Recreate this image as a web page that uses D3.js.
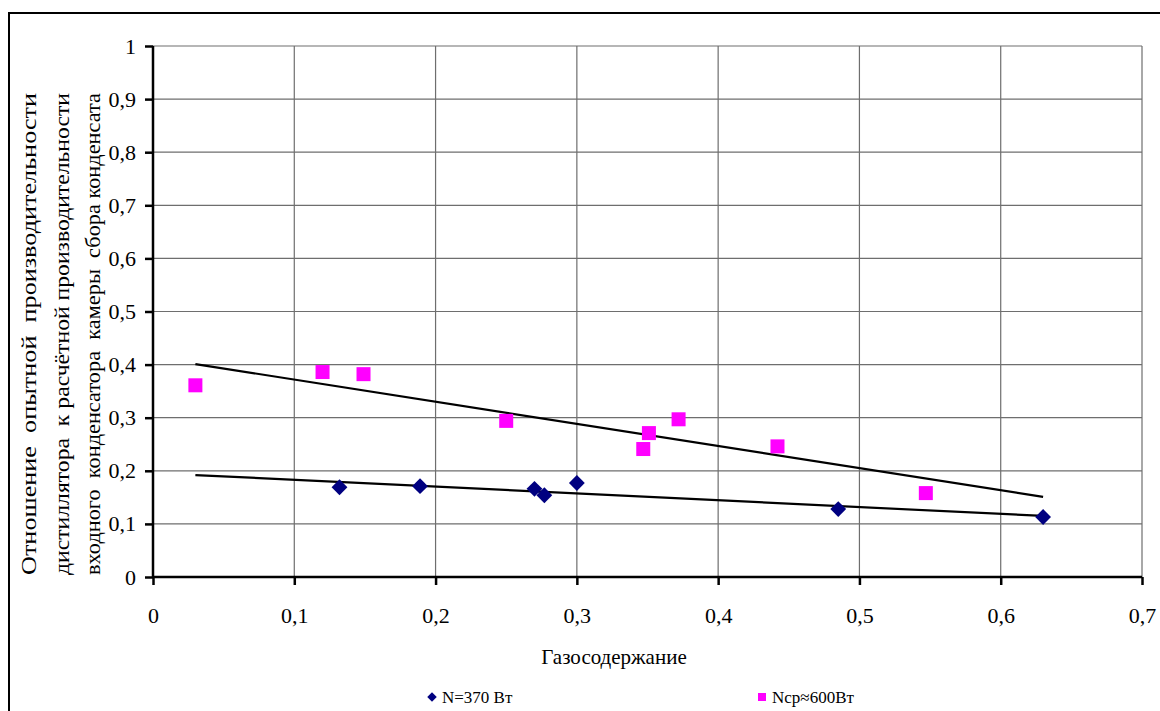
<!DOCTYPE html>
<html>
<head>
<meta charset="utf-8">
<script src="https://cdn.jsdelivr.net/npm/d3@7"></script>
<style>
  body { margin: 0; background: #fff; }
  svg text { font-family: "Liberation Serif", Tinos, "Times New Roman", "DejaVu Serif", serif !important; fill: #000; }
</style>
</head>
<body>
<svg id="chart" width="1160" height="711"></svg>
<script>
// data
var n370X = [0.132, 0.189, 0.270, 0.277, 0.300, 0.485, 0.630];
var n370Y = [0.169, 0.171, 0.166, 0.154, 0.177, 0.128, 0.113];

var n600X = [0.030, 0.120, 0.149, 0.250, 0.347, 0.351, 0.372, 0.442, 0.547];
var n600Y = [0.361, 0.386, 0.382, 0.294, 0.241, 0.271, 0.297, 0.246, 0.158];

// trend lines (start / end)
var trend370X = [0.030, 0.630];
var trend370Y = [0.192, 0.115];
var trend600X = [0.030, 0.630];
var trend600Y = [0.401, 0.151];

var xTicks = [0, 0.1, 0.2, 0.3, 0.4, 0.5, 0.6, 0.7];
var xTickLabels = ["0", "0,1", "0,2", "0,3", "0,4", "0,5", "0,6", "0,7"];
var yTicks = [0, 0.1, 0.2, 0.3, 0.4, 0.5, 0.6, 0.7, 0.8, 0.9, 1];
var yTickLabels = ["0", "0,1", "0,2", "0,3", "0,4", "0,5", "0,6", "0,7", "0,8", "0,9", "1"];

var xTitle = "Газосодержание";
var yTitle = ["Отношение  опытной  производительности",
              "дистиллятора  к расчётной производительности",
              "входного  конденсатора  камеры  сбора конденсата"];
var legendNames = ["N=370 Вт", "Nср≈600Вт"];

var svg = d3.select("#chart");

// outer frame
svg.append("rect")
  .attr("x", 9).attr("y", 13)
  .attr("width", 1160).attr("height", 720)
  .attr("fill", "none").attr("stroke", "#000").attr("stroke-width", 2);

var x = d3.scaleLinear().domain([0, 0.7]).range([153, 1142]);
var y = d3.scaleLinear().domain([0, 1]).range([577, 46]);

// grid
svg.append("g").selectAll("line").data(yTicks.slice(1)).join("line")
  .attr("x1", x(0)).attr("x2", x(0.7))
  .attr("y1", d => y(d)).attr("y2", d => y(d))
  .attr("stroke", "#6e6e6e").attr("stroke-width", 1.2);
svg.append("g").selectAll("line").data(xTicks.slice(1)).join("line")
  .attr("y1", y(0)).attr("y2", y(1))
  .attr("x1", d => x(d)).attr("x2", d => x(d))
  .attr("stroke", "#6e6e6e").attr("stroke-width", 1.2);

// axes
var yAxis = svg.append("g")
  .attr("transform", `translate(${x(0)},0)`)
  .call(d3.axisLeft(y).tickValues(yTicks).tickSize(8).tickPadding(9)
    .tickFormat((d, i) => yTickLabels[i]));
var xAxis = svg.append("g")
  .attr("transform", `translate(0,${y(0)})`)
  .call(d3.axisBottom(x).tickValues(xTicks).tickSize(8).tickPadding(22)
    .tickFormat((d, i) => xTickLabels[i]));

[xAxis, yAxis].forEach(function(a){
  a.attr("font-family", null);
  a.select(".domain").attr("stroke", "#000").attr("stroke-width", 2.5)
    .attr("d", a === xAxis ? `M${x(0)},0H${x(0.7)}` : `M0,${y(0)}V${y(1)}`);
  a.selectAll(".tick line").attr("stroke", "#000").attr("stroke-width", 2.5);
  a.selectAll(".tick text").attr("font-size", 22).attr("fill", "#000");
});

// trend lines
var line = d3.line().x(d => x(d[0])).y(d => y(d[1]));
svg.append("path")
  .datum(trend370X.map((v, i) => [v, trend370Y[i]]))
  .attr("d", line).attr("fill", "none").attr("stroke", "#000").attr("stroke-width", 2.2);
svg.append("path")
  .datum(trend600X.map((v, i) => [v, trend600Y[i]]))
  .attr("d", line).attr("fill", "none").attr("stroke", "#000").attr("stroke-width", 2.2);

// markers
var diamond = d3.symbol().type(d3.symbolSquare).size(125);
svg.append("g").selectAll("path").data(n370X).join("path")
  .attr("d", diamond)
  .attr("transform", (d, i) => `translate(${x(d)},${y(n370Y[i])}) rotate(45)`)
  .attr("fill", "#000080");

svg.append("g").selectAll("rect").data(n600X).join("rect")
  .attr("x", d => x(d) - 7).attr("y", (d, i) => y(n600Y[i]) - 7)
  .attr("width", 14).attr("height", 14)
  .attr("fill", "#ff00ff");

// titles
svg.append("text")
  .attr("x", 614).attr("y", 664)
  .attr("text-anchor", "middle").attr("font-size", 21)
  .text(xTitle);

var yPos = [31, 64, 95];
yTitle.forEach(function(t, i){
  svg.append("text")
    .attr("transform", `translate(${yPos[i]},334) rotate(-90)`)
    .attr("text-anchor", "middle").attr("dominant-baseline", "middle")
    .attr("font-size", 21)
    .attr("textLength", 482).attr("lengthAdjust", "spacingAndGlyphs")
    .style("white-space", "pre")
    .text(t);
});

// legend
var lg = svg.append("g");
lg.append("path").attr("d", d3.symbol().type(d3.symbolSquare).size(45))
  .attr("transform", "translate(432,697) rotate(45)").attr("fill", "#000080");
lg.append("text").attr("x", 442).attr("y", 703).attr("font-size", 17).text(legendNames[0]);
lg.append("rect").attr("x", 758).attr("y", 693).attr("width", 8).attr("height", 8).attr("fill", "#ff00ff");
lg.append("text").attr("x", 772).attr("y", 703).attr("font-size", 17).text(legendNames[1]);
</script>
</body>
</html>
